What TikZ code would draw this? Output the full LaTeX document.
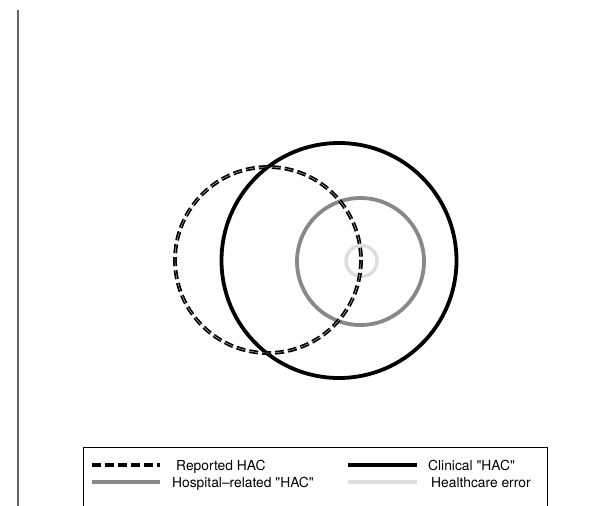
\documentclass[tikz,border=0pt]{standalone}
\usepackage{fontspec}
\setmainfont{TeX Gyre Heros}
\definecolor{hospgray}{RGB}{136,136,136}
\definecolor{errgray}{RGB}{221,221,221}
\definecolor{axisgray}{RGB}{100,100,100}
\begin{document}
\begin{tikzpicture}[x=1pt,y=-1pt,
  reported/.style={line width=3.8pt,dash pattern=on 9pt off 4pt,black},
  clinical/.style={line width=3.8pt,black},
  hospital/.style={line width=3.8pt,hospgray},
  hcerror/.style={line width=3.4pt,errgray},
  legtext/.style={anchor=base west,inner sep=0pt,font=\fontsize{13.8}{16}\selectfont}]
\useasboundingbox (0,0) rectangle (614,506);
% left frame edge
\draw[axisgray,line width=1.4pt] (18,10) -- (18,506);
% sets
\draw[clinical] (339,260.5) circle (117.5);
\draw[hospital] (360.5,261.5) circle (63.5);
\draw[hcerror] (361.5,261) circle (15.5);
\draw[reported] (268,260) circle (93);
\draw[white,line width=0.3pt,dash pattern=on 9pt off 4pt] (268,260) circle (93);
% legend box
\draw[black,line width=0.8pt] (83,520) -- (83,447) -- (547,447) -- (547,520);
\coordinate (l1a) at (92,465);  \coordinate (l1b) at (160,465);
\coordinate (l2a) at (348,465); \coordinate (l2b) at (417,465);
\coordinate (l3a) at (92,482);  \coordinate (l3b) at (160,482);
\coordinate (l4a) at (348,482); \coordinate (l4b) at (417,482);
\draw[reported] (l1a) -- (l1b);
\draw[clinical] (l2a) -- (l2b);
\draw[hospital] (l3a) -- (l3b);
\draw[hcerror] (l4a) -- (l4b);
\node[legtext] (t1) at (176,470) {Reported HAC};
\node[legtext] (t2) at (428,470) {Clinical \textquotedbl HAC\textquotedbl};
\node[legtext] (t3) at (172,487) {Hospital\textendash related \textquotedbl HAC\textquotedbl};
\node[legtext] (t4) at (431,487) {Healthcare error};
\end{tikzpicture}
\end{document}
